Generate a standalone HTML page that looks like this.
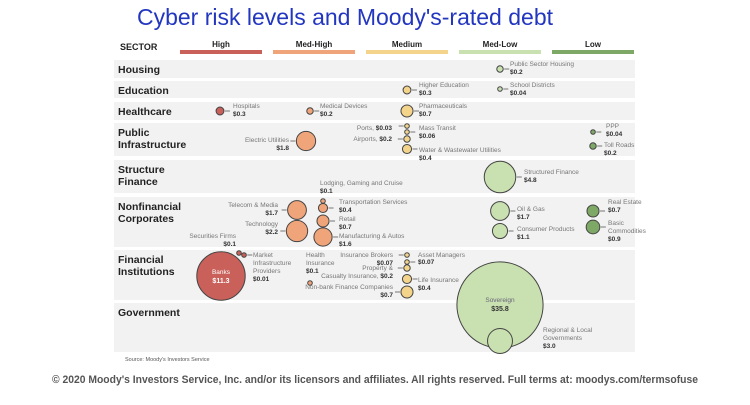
<!DOCTYPE html>
<html><head><meta charset="utf-8"><style>
body{margin:0;background:#fff;width:750px;height:400px;overflow:hidden;font-family:"Liberation Sans",sans-serif}
svg text{font-family:"Liberation Sans",sans-serif}
.sec{font-size:10.5px;font-weight:bold;fill:#222}
.lb{font-size:6.5px;fill:#777}
.vl{font-size:6.5px;font-weight:bold;fill:#333}
</style></head><body>
<svg id="c" width="750" height="400">
<text x="345" y="25" text-anchor="middle" font-size="23" fill="#2236c0">Cyber risk levels and Moody's-rated debt</text>
<text x="120" y="50" font-size="9" font-weight="bold" fill="#222">SECTOR</text>
<g id="legend"></g>
<g id="bands"></g>
<g id="lines" stroke="#555" stroke-width="0.8"></g>
<g id="bubbles"></g>
<g>
<text class="lb" x="510" y="66">Public Sector Housing</text><text class="vl" x="510" y="74">$0.2</text>
<text class="lb" x="419" y="87">Higher Education</text><text class="vl" x="419" y="95">$0.3</text>
<text class="lb" x="510" y="87">School Districts</text><text class="vl" x="510" y="95">$0.04</text>
<text class="lb" x="233" y="108">Hospitals</text><text class="vl" x="233" y="116">$0.3</text>
<text class="lb" x="320" y="108">Medical Devices</text><text class="vl" x="320" y="116">$0.2</text>
<text class="lb" x="419" y="108">Pharmaceuticals</text><text class="vl" x="419" y="116">$0.7</text>
<text class="lb" x="289" y="142" text-anchor="end">Electric Utilities</text><text class="vl" x="289" y="150" text-anchor="end">$1.8</text>
<text class="lb" x="392" y="130" text-anchor="end">Ports, <tspan font-weight="bold" fill="#333">$0.03</tspan></text>
<text class="lb" x="392" y="141" text-anchor="end">Airports, <tspan font-weight="bold" fill="#333">$0.2</tspan></text>
<text class="lb" x="419" y="130">Mass Transit</text><text class="vl" x="419" y="138">$0.06</text>
<text class="lb" x="419" y="152">Water &amp; Wastewater Utilities</text><text class="vl" x="419" y="160">$0.4</text>
<text class="lb" x="606" y="128">PPP</text><text class="vl" x="606" y="136">$0.04</text>
<text class="lb" x="604" y="147">Toll Roads</text><text class="vl" x="604" y="155">$0.2</text>
<text class="lb" x="524" y="174">Structured Finance</text><text class="vl" x="524" y="182">$4.8</text>
<text class="lb" x="320" y="185">Lodging, Gaming and Cruise</text><text class="vl" x="320" y="193">$0.1</text>
<text class="lb" x="339" y="204">Transportation Services</text><text class="vl" x="339" y="212">$0.4</text>
<text class="lb" x="339" y="221">Retail</text><text class="vl" x="339" y="229">$0.7</text>
<text class="lb" x="339" y="238">Manufacturing &amp; Autos</text><text class="vl" x="339" y="246">$1.6</text>
<text class="lb" x="278" y="207" text-anchor="end">Telecom &amp; Media</text><text class="vl" x="278" y="215" text-anchor="end">$1.7</text>
<text class="lb" x="278" y="226" text-anchor="end">Technology</text><text class="vl" x="278" y="234" text-anchor="end">$2.2</text>
<text class="lb" x="517" y="211">Oil &amp; Gas</text><text class="vl" x="517" y="219">$1.7</text>
<text class="lb" x="517" y="231">Consumer Products</text><text class="vl" x="517" y="239">$1.1</text>
<text class="lb" x="608" y="204">Real Estate</text><text class="vl" x="608" y="212">$0.7</text>
<text class="lb" x="608" y="225">Basic</text><text class="lb" x="608" y="233">Commodities</text><text class="vl" x="608" y="241">$0.9</text>
<text class="lb" x="236" y="238" text-anchor="end">Securities Firms</text><text class="vl" x="236" y="246" text-anchor="end">$0.1</text>
<text class="lb" x="253" y="257">Market</text><text class="lb" x="253" y="265">Infrastructure</text><text class="lb" x="253" y="273">Providers</text><text class="vl" x="253" y="281">$0.01</text>
<text class="lb" x="306" y="257">Health</text><text class="lb" x="306" y="265">Insurance</text><text class="vl" x="306" y="273">$0.1</text>
<text class="lb" x="393" y="257" text-anchor="end">Insurance Brokers</text><text class="vl" x="393" y="265" text-anchor="end">$0.07</text>
<text class="lb" x="418" y="257">Asset Managers</text><text class="vl" x="418" y="264">$0.07</text>
<text class="lb" x="393" y="270" text-anchor="end">Property &amp;</text><text class="lb" x="393" y="278" text-anchor="end">Casualty Insurance, <tspan font-weight="bold" fill="#333">$0.2</tspan></text>
<text class="lb" x="418" y="282">Life Insurance</text><text class="vl" x="418" y="290">$0.4</text>
<text class="lb" x="393" y="289" text-anchor="end">Non-bank Finance Companies</text><text class="vl" x="393" y="297" text-anchor="end">$0.7</text>
<text x="221" y="274" text-anchor="middle" font-size="6.5" fill="#fff">Banks</text><text x="221" y="283" text-anchor="middle" font-size="7" font-weight="bold" fill="#fff">$11.3</text>
<text x="500" y="302" text-anchor="middle" font-size="6.5" fill="#667">Sovereign</text><text x="500" y="311" text-anchor="middle" font-size="7" font-weight="bold" fill="#333">$35.8</text>
<text class="lb" x="543" y="332">Regional &amp; Local</text><text class="lb" x="543" y="340">Governments</text><text class="vl" x="543" y="348">$3.0</text>
</g>
<text x="125" y="361" font-size="5.5" fill="#555">Source: Moody's Investors Service</text>
<text x="52" y="383" font-size="11" fill="#555" font-weight="bold" textLength="646" lengthAdjust="spacingAndGlyphs">© 2020 Moody's Investors Service, Inc. and/or its licensors and affiliates. All rights reserved. Full terms at: moodys.com/termsofuse</text>
</svg>
<script>
const NS="http://www.w3.org/2000/svg";
const riskLevels=["High","Med-High","Medium","Med-Low","Low"];
const riskColors=["#c9605a","#f0a47a","#f3d48a","#c9e0b0","#7ea866"];
const sectors=["Housing","Education","Healthcare","Public|Infrastructure","Structure|Finance","Nonfinancial|Corporates","Financial|Institutions","Government"];
const bandTop=[60,81,102,123,160,197,250,303];
const bandBot=[78,98,120,156,193,247,300,352];
const names=["Public Sector Housing","Higher Education","School Districts","Hospitals","Medical Devices","Pharmaceuticals","Electric Utilities","Ports","Mass Transit","Airports","Water & Wastewater Utilities","PPP","Toll Roads","Structured Finance","Lodging, Gaming and Cruise","Transportation Services","Retail","Manufacturing & Autos","Telecom & Media","Technology","Oil & Gas","Consumer Products","Real Estate","Basic Commodities","Securities Firms","Market Infrastructure Providers","Banks","Health Insurance","Insurance Brokers","Asset Managers","Property & Casualty Insurance","Life Insurance","Non-bank Finance Companies","Sovereign","Regional & Local Governments"];
const values=[0.2,0.3,0.04,0.3,0.2,0.7,1.8,0.03,0.06,0.2,0.4,0.04,0.2,4.8,0.1,0.4,0.7,1.6,1.7,2.2,1.7,1.1,0.7,0.9,0.1,0.01,11.3,0.1,0.07,0.07,0.2,0.4,0.7,35.8,3.0];
const risk=[3,2,3,0,1,2,1,2,2,2,2,4,4,3,1,1,1,1,1,1,3,3,4,4,0,0,0,1,2,2,2,2,2,3,3];
const cx=[500,407,500,220,310,407,306,407,407,407,407,593,593,500,323,323,323,323,297,297,500,500,593,593,239,244,221,310,407,407,407,407,407,500,500];
const cy=[69,90,89,111,111,111,141,126,132,139,149,132,146,177,201,208,221,237,210,231,211,231,211,227,253,255,276,283,255,262,268,279,292,305,341];
const side=[1,1,1,1,1,1,-1,-1,1,-1,1,1,1,1,0,1,1,1,-1,-1,1,1,1,1,0,1,0,0,-1,1,-1,1,-1,0,1];
const colX=[221,314,407,500,593];
function rScale(v){return Math.max(2.3,7.2*Math.sqrt(v));}
function mk(t,a,p){const e=document.createElementNS(NS,t);for(const k in a)e.setAttribute(k,a[k]);p.appendChild(e);return e;}
const lg=document.getElementById('legend');
riskLevels.forEach((l,i)=>{
 const r=mk('rect',{x:colX[i]-41,y:50,width:82,height:4,fill:riskColors[i]},lg);
 
 
 const t=mk('text',{x:colX[i],y:47,'text-anchor':'middle','font-size':8,'font-weight':'bold',fill:'#222'},lg);t.textContent=l;
 
 
});
const bg=document.getElementById('bands');
sectors.forEach((s,i)=>{
 const r=mk('rect',{x:114,y:bandTop[i],width:521,height:bandBot[i]-bandTop[i],fill:'#f2f2f2'},bg);
 
 
 const parts=s.split('|');
 parts.forEach((p,j)=>{const t=mk('text',{x:118,y:bandTop[i]+13+j*12,class:'sec'},bg);t.textContent=p;
 
 });
});
const ln=document.getElementById('lines');
const bb=document.getElementById('bubbles');
values.forEach((v,i)=>{
 const r=rScale(v);
 if(side[i]!==0){
  const x1=cx[i]+side[i]*(r+1), x2=cx[i]+side[i]*(r+6);
  const l=mk('line',{x1:x1,y1:cy[i],x2:x2,y2:cy[i]},ln);
  
  
 }
 const c=mk('circle',{cx:cx[i],cy:cy[i],r:r,fill:riskColors[risk[i]],stroke:'#444','stroke-width':1},bb);
 
 
});
</script>
</body></html>
